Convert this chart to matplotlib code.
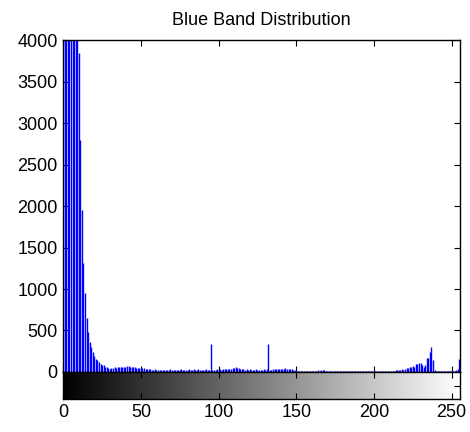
import numpy as np
import matplotlib.pyplot as plt

import matplotlib as mpl
mpl.rcParams.update({
    'font.family': ['Liberation Sans', 'DejaVu Sans'],
    'font.size': 13,
})

# histogram counts of the blue band, one value per intensity level 0..255
counts = [
    5200, 8600, 9800, 9400, 8700, 7900, 7000, 6100, 5300, 4500, 3850, 2800, 1950, 1315, 955, 650,
    485, 365, 300, 240, 190, 160, 140, 120, 100, 85, 80, 62, 55, 45, 40, 42,
    48, 55, 52, 60, 58, 62, 55, 60, 65, 68, 72, 64, 58, 55, 60, 50,
    52, 45, 50, 42, 45, 38, 40, 30, 35, 28, 25, 30, 22, 28, 25, 20,
    22, 25, 28, 20, 24, 30, 22, 26, 25, 28, 20, 24, 32, 22, 25, 28,
    24, 30, 22, 26, 35, 28, 24, 30, 26, 22, 28, 25, 30, 24, 28, 340,
    25, 28, 22, 30, 26, 32, 28, 35, 30, 38, 32, 40, 35, 45, 48, 55,
    50, 42, 38, 35, 30, 28, 32, 26, 30, 24, 28, 25, 30, 26, 22, 28,
    24, 30, 26, 32, 340, 28, 24, 30, 35, 38, 32, 40, 36, 34, 38, 42,
    36, 40, 38, 30, 26, 22, 18, 15, 14, 12, 15, 13, 12, 16, 14, 12,
    13, 15, 12, 14, 18, 16, 20, 22, 18, 15, 13, 14, 12, 15, 13, 12,
    14, 12, 13, 15, 12, 14, 13, 12, 15, 14, 12, 13, 15, 12, 14, 13,
    12, 14, 13, 15, 12, 13, 14, 12, 15, 13, 12, 14, 13, 15, 12, 14,
    13, 15, 14, 12, 16, 14, 18, 20, 22, 25, 30, 28, 35, 50, 45, 60,
    55, 70, 65, 90, 100, 105, 110, 85, 60, 80, 165, 170, 235, 305, 150, 20,
    15, 14, 12, 13, 15, 12, 14, 13, 12, 15, 18, 14, 16, 20, 30, 155,
]
levels = np.arange(len(counts))
y_ticks = np.arange(0, 4001, 500)
x_ticks = [0, 50, 100, 150, 200, 250]

fig = plt.figure(figsize=(4.7, 4.32), dpi=100)
ax = fig.add_axes([0.133, 0.139, 0.846, 0.768])
cax = fig.add_axes([0.133, 0.076, 0.846, 0.063])

ax.vlines(levels, 0, counts, color=(0, 0, 1), linewidth=1.0)
ax.set_xlim(-0.5, 255.5)
ax.set_ylim(0, 4000)
ax.set_yticks(y_ticks)
ax.set_xticks(x_ticks)
ax.tick_params(direction='in', length=4, top=True, right=True, labelbottom=False)
ax.set_title('Blue Band Distribution', fontsize=13, pad=11)

# grey ramp under the histogram
cax.imshow(levels[None, :], cmap='gray', aspect='auto',
           extent=[-0.5, 255.5, 0, 1])
cax.set_xlim(-0.5, 255.5)
cax.set_xticks(x_ticks)
cax.set_yticks([0.5])
cax.set_yticklabels([])
cax.tick_params(direction='in', length=4, top=True, right=True)

for a in (ax, cax):
    for s in a.spines.values():
        s.set_linewidth(1.0)

fig.savefig('out.png', dpi=100)
